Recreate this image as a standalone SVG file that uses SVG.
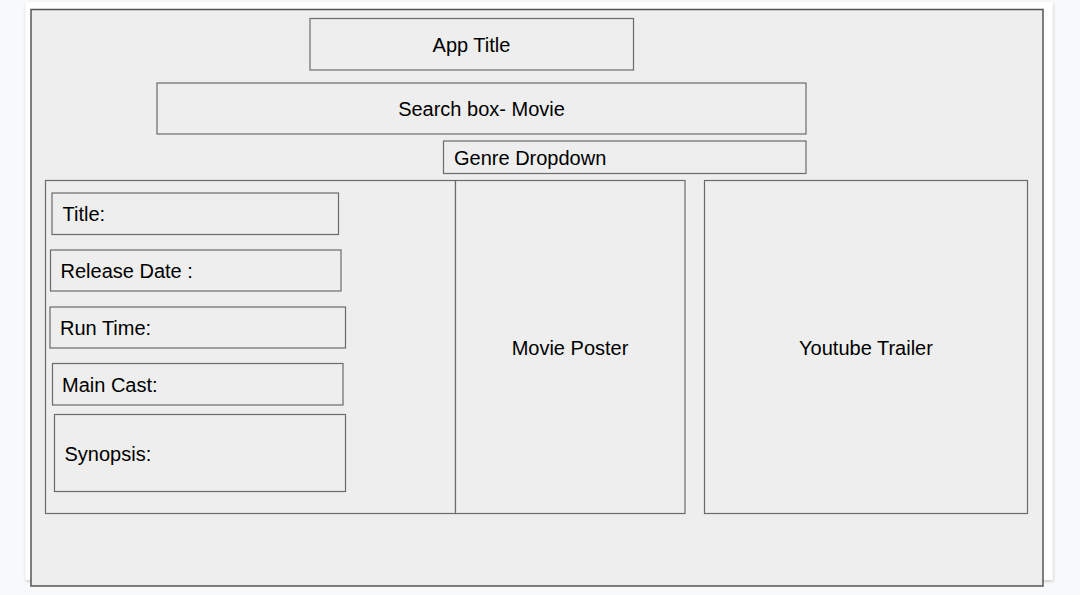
<svg xmlns="http://www.w3.org/2000/svg" width="1080" height="595" viewBox="0 0 1080 595">
<defs>
<filter id="sh" x="-5%" y="-5%" width="110%" height="110%">
<feDropShadow dx="0.5" dy="1.5" stdDeviation="1.5" flood-color="#000" flood-opacity="0.2"/>
</filter>
<style>
.box{fill:#eeeeee;stroke:#6b6b6b;stroke-width:1.2}
.t{font-family:"Liberation Sans",Arial,sans-serif;font-size:20px;fill:#000}
.c{text-anchor:middle}
</style>
</defs>
<rect x="0" y="0" width="1080" height="595" fill="#f8f9fa"/>
<rect x="25.5" y="2" width="1027" height="578" fill="#ffffff" filter="url(#sh)"/>
<rect x="31" y="9.5" width="1012" height="576.5" fill="#eeeeee" stroke="#555555" stroke-width="1.5"/>
<g id="app-title"><rect class="box" x="310" y="18.5" width="323.5" height="51.5"/><text class="t c" x="471.5" y="52">App Title</text></g>
<g id="search-box"><rect class="box" x="157" y="83" width="649" height="51"/><text class="t c" x="481.5" y="116">Search box- Movie</text></g>
<g id="genre-dropdown"><rect class="box" x="443.5" y="141" width="362.5" height="32.5"/><text class="t" x="454" y="164.5">Genre Dropdown</text></g>
<g id="info-panel"><rect class="box" x="45.5" y="180.5" width="410" height="333"/></g>
<g id="title"><rect class="box" x="52" y="193" width="286.5" height="41.5"/><text class="t" x="62.5" y="221">Title:</text></g>
<g id="release-date"><rect class="box" x="50.5" y="250" width="290.5" height="41"/><text class="t" x="60.5" y="278">Release Date :</text></g>
<g id="run-time"><rect class="box" x="50" y="307" width="295.5" height="41"/><text class="t" x="60" y="335">Run Time:</text></g>
<g id="main-cast"><rect class="box" x="52.5" y="363.5" width="290.5" height="41.5"/><text class="t" x="62" y="392">Main Cast:</text></g>
<g id="synopsis"><rect class="box" x="54.5" y="414.5" width="291" height="77"/><text class="t" x="64.5" y="460.5">Synopsis:</text></g>
<g id="movie-poster"><rect class="box" x="455.5" y="180.5" width="229.5" height="333"/><text class="t c" x="570" y="354.5">Movie Poster</text></g>
<g id="youtube-trailer"><rect class="box" x="704.5" y="180.5" width="323" height="333"/><text class="t c" x="866" y="354.5">Youtube Trailer</text></g>
<g id="connectors"></g>
</svg>
